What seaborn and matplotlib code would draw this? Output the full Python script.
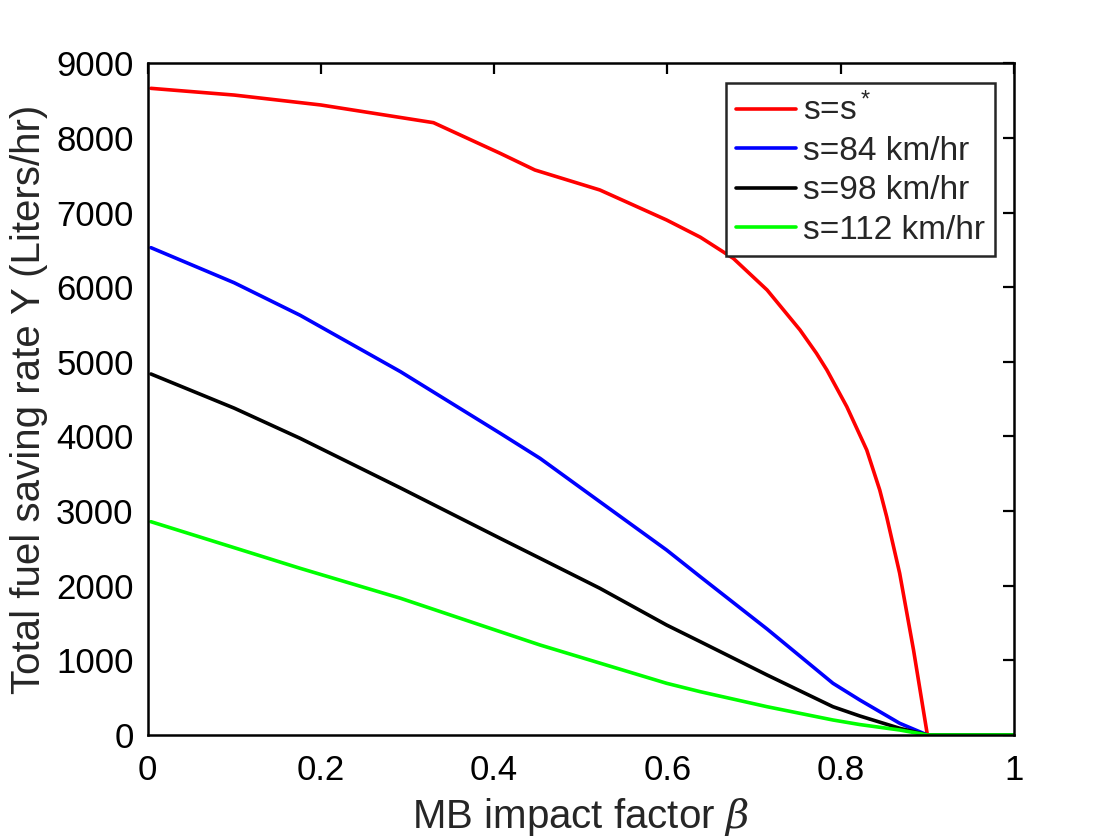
import matplotlib
matplotlib.use("Agg")
import matplotlib.pyplot as plt
import seaborn as sns
import pandas as pd

# Data
beta_red = [0.004, 0.1, 0.2, 0.33, 0.407, 0.447, 0.522, 0.599, 0.638, 0.676, 0.715,
            0.753, 0.772, 0.784, 0.807, 0.830, 0.845, 0.853, 0.868, 0.884, 0.9, 0.95, 1.0]
y_red = [8665, 8575, 8442, 8205, 7794, 7571, 7303, 6901, 6670, 6387, 5963,
         5427, 5114, 4891, 4399, 3819, 3283, 2925, 2167, 1139, 0, 0, 0]

beta_84 = [0.004, 0.1, 0.176, 0.292, 0.407, 0.453, 0.522, 0.599, 0.638, 0.715, 0.791,
           0.822, 0.868, 0.9, 0.95, 1.0]
y_84 = [6530, 6060, 5625, 4868, 4043, 3707, 3126, 2479, 2120, 1420, 693,
        469, 157, 0, 0, 0]

beta_98 = [0.004, 0.1, 0.176, 0.292, 0.407, 0.453, 0.522, 0.599, 0.638, 0.715, 0.791,
           0.822, 0.868, 0.9, 0.95, 1.0]
y_98 = [4837, 4380, 3976, 3310, 2635, 2368, 1966, 1474, 1250, 804, 379,
        255, 90, 0, 0, 0]

beta_112 = [0.004, 0.1, 0.176, 0.292, 0.403, 0.453, 0.599, 0.638, 0.715, 0.791,
            0.822, 0.868, 0.9, 0.95, 1.0]
y_112 = [2858, 2510, 2234, 1832, 1400, 1206, 693, 580, 379, 201,
         140, 67, 0, 0, 0]

labels = ["s=s$^*$", "s=84 km/hr", "s=98 km/hr", "s=112 km/hr"]
colors = ["#FF0000", "#0000FF", "#000000", "#00FF00"]

xticks = [0, 0.2, 0.4, 0.6, 0.8, 1]
xticklabels = ["0", "0.2", "0.4", "0.6", "0.8", "1"]
yticks = list(range(0, 9001, 1000))

sns.set_style("white")
plt.rcParams['font.family'] = ['Liberation Sans', 'DejaVu Sans']
plt.rcParams['mathtext.fontset'] = 'custom'
plt.rcParams['mathtext.rm'] = 'Liberation Sans'
plt.rcParams['mathtext.it'] = 'DejaVu Serif:italic'

fig = plt.figure(figsize=(11.2, 8.4), dpi=100)
ax = fig.add_axes([0.1317, 0.125, 0.9054 - 0.1317, 0.9246 - 0.125])

series = [(beta_red, y_red), (beta_84, y_84), (beta_98, y_98), (beta_112, y_112)]
for (xs, ys), lab, c in zip(series, labels, colors):
    df = pd.DataFrame({"beta": xs, "Y": ys})
    sns.lineplot(data=df, x="beta", y="Y", ax=ax, color=c, lw=2.6, label=lab)

ax.set_xlim(0, 1)
ax.set_ylim(0, 9000)
ax.set_xticks(xticks)
ax.set_xticklabels(xticklabels)
ax.set_yticks(yticks)
ax.tick_params(direction="in", length=8, width=1.6, labelsize=25, top=True, right=True,
               pad=10, colors="black")
ax.tick_params(axis="x", pad=14)
for s in ax.spines.values():
    s.set_visible(True)
    s.set_linewidth(1.8)
    s.set_color("black")

ax.set_xlabel(r"MB impact factor $\beta$", fontsize=29, labelpad=6)
ax.set_ylabel("Total fuel saving rate Y (Liters/hr)", fontsize=29, labelpad=6)

leg = ax.legend(loc="upper right", bbox_to_anchor=(0.978, 0.9707), fontsize=24,
                frameon=True, fancybox=False, edgecolor="#262626", framealpha=1,
                handlelength=1.8, handletextpad=0.2, borderpad=0.3, labelspacing=0.25,
                borderaxespad=0)
leg.get_frame().set_linewidth(1.8)

fig.savefig("out.png", dpi=100)
